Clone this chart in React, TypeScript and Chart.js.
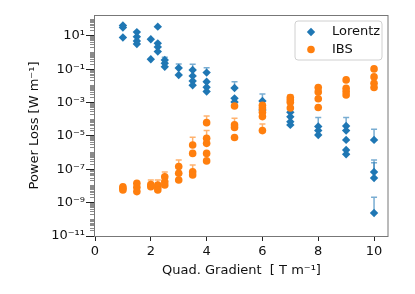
import React, { useEffect, useRef } from "react";
import { Chart, registerables } from "chart.js";

Chart.register(...registerables);

// ---- data ----
const lorentzX = [1, 1, 1, 1.5, 1.5, 1.5, 1.5, 2, 2, 2.25, 2.25, 2.25, 2.25, 2.5, 2.5, 2.5, 3, 3, 3.5, 3.5, 3.5, 3.5, 4, 4, 4, 4, 5, 5, 5, 6, 6, 7, 7, 7, 7, 8, 8, 8, 9, 9, 9, 9, 9, 10, 10, 10, 10];
const lorentzY = [42, 32, 8, 17, 9, 5, 3.3, 6.3, 0.4, 36, 3.6, 2.2, 1.15, 0.36, 0.23, 0.14, 0.12, 0.045, 0.09, 0.04, 0.02, 0.011, 0.063, 0.018, 0.0083, 0.0046, 0.0076, 0.0018, 0.0011, 0.00126, 0.00036, 2.6e-4, 1.4e-4, 7.2e-5, 4.6e-5, 3.7e-5, 2.1e-5, 1.15e-5, 4e-5, 2.1e-5, 5.8e-6, 1.45e-6, 8e-7, 5.8e-6, 6.9e-8, 3e-8, 2.4e-10];
const lorentzErrTop = [null, null, null, null, null, null, null, null, null, null, null, null, null, 0.52, null, null, 0.21, null, 0.2, null, null, null, 0.125, null, null, null, 0.018, null, null, 0.0033, null, 5.8e-4, null, null, null, 1.3e-4, null, null, 1.3e-4, null, null, null, null, 2.5e-5, 3.6e-7, 2.5e-7, 2.1e-9];

const ibsX = [1, 1, 1, 1.5, 1.5, 1.5, 2, 2, 2.25, 2.25, 2.25, 2.5, 2.5, 2.5, 3, 3, 3, 3.5, 3.5, 3.5, 3.5, 4, 4, 4, 4, 4, 5, 5, 5, 5, 6, 6, 6, 6, 6, 7, 7, 7, 7, 8, 8, 8, 8, 9, 9, 9, 9, 10, 10, 10, 10];
const ibsY = [9e-9, 7e-9, 5.8e-9, 1.45e-8, 8.3e-9, 4.6e-9, 1.2e-8, 9e-9, 1.15e-8, 8.3e-9, 5.8e-9, 3.6e-8, 1.8e-8, 1.15e-8, 1.45e-7, 5.8e-8, 2.3e-8, 2.9e-6, 9e-7, 7.2e-8, 4.6e-8, 6.3e-5, 7.2e-6, 3.6e-6, 9e-7, 3.2e-7, 6.3e-4, 4.6e-5, 3.2e-5, 8.1e-6, 7e-4, 4.8e-4, 2.6e-4, 1.45e-4, 2.1e-5, 2e-3, 1.45e-3, 1.05e-3, 4.8e-4, 8.1e-3, 4.4e-3, 1.7e-3, 5.1e-4, 0.023, 7.2e-3, 4.6e-3, 2.9e-3, 0.105, 0.035, 0.0145, 0.008];
const ibsErrTop = [null, null, null, null, null, null, 2.3e-8, null, 2.3e-8, null, null, 6.9e-8, null, null, 3.6e-7, null, null, 8.3e-6, null, 1.8e-7, null, 1.6e-4, 2.1e-5, null, null, null, null, 1.15e-4, null, null, null, null, null, null, 5.2e-5, 2.9e-3, null, null, null, null, null, null, null, null, null, null, null, null, null, null, null];

const seriesNames = ["Lorentz", "IBS"];
const xTicks = [0, 2, 4, 6, 8, 10];
const yLabelExps = [1, -1, -3, -5, -7, -9, -11];
const yDecadeRange = [-11, 2];
const xLimits = [0, 10.5];
const yLimits = [1e-11, 180];
const xTitle = "Quad. Gradient  [ T m\u207B\u00B9]";
const yTitle = "Power Loss [W m\u207B\u00B9]";

const BLUE = "#1f77b4";
const ORANGE = "#ff7f0e";
const FONT = "'DejaVu Sans', sans-serif";
const FS = 13;

const SUP: Record<string, string> = { "-": "\u207B", "0": "\u2070", "1": "\u00B9", "2": "\u00B2", "3": "\u00B3", "4": "\u2074", "5": "\u2075", "6": "\u2076", "7": "\u2077", "8": "\u2078", "9": "\u2079" };
const sup = (n: number) => String(n).split("").map((c) => SUP[c] || c).join("");

const exactExp = (v: number): number | null => {
  const l = Math.log10(v);
  const r = Math.round(l);
  return Math.abs(l - r) < 1e-6 ? r : null;
};
const isLabelled = (v: number) => {
  const e = exactExp(v);
  return e !== null && yLabelExps.includes(e);
};

const errorBarPlugin = {
  id: "errorBars",
  beforeDatasetsDraw(chart: any) {
    const { ctx } = chart;
    const xs = chart.scales.x;
    const ys = chart.scales.y;
    chart.data.datasets.forEach((ds: any) => {
      const tops = ds.errTop;
      if (!tops) return;
      ctx.save();
      ctx.strokeStyle = ds.errColor;
      ctx.lineWidth = 1.5;
      ds.data.forEach((p: any, i: number) => {
        const t = tops[i];
        if (t == null) return;
        const px = xs.getPixelForValue(p.x);
        const py = ys.getPixelForValue(p.y);
        const pt = ys.getPixelForValue(t);
        ctx.beginPath();
        ctx.moveTo(px, py);
        ctx.lineTo(px, pt);
        ctx.moveTo(px - 3, pt);
        ctx.lineTo(px + 3, pt);
        ctx.stroke();
      });
      ctx.restore();
    });
  },
};

const framePlugin = {
  id: "frame",
  afterDatasetsDraw(chart: any) {
    const { ctx, chartArea: a } = chart;
    ctx.save();
    ctx.strokeStyle = "#777";
    ctx.lineWidth = 1;
    ctx.strokeRect(Math.round(a.left) - 0.5, Math.round(a.top) + 0.5, Math.round(a.right - a.left) + 0.5, Math.round(a.bottom - a.top));
    ctx.restore();
  },
};

const legendPlugin = {
  id: "boxLegend",
  afterDraw(chart: any) {
    const { ctx, chartArea: a } = chart;
    const w = 87;
    const h = 39;
    const x0 = a.right - 6 - w;
    const y0 = a.top + 6;
    ctx.save();
    ctx.beginPath();
    const r = 3;
    ctx.moveTo(x0 + r, y0);
    ctx.arcTo(x0 + w, y0, x0 + w, y0 + h, r);
    ctx.arcTo(x0 + w, y0 + h, x0, y0 + h, r);
    ctx.arcTo(x0, y0 + h, x0, y0, r);
    ctx.arcTo(x0, y0, x0 + w, y0, r);
    ctx.closePath();
    ctx.fillStyle = "rgba(255,255,255,0.8)";
    ctx.fill();
    ctx.strokeStyle = "#d0d0d0";
    ctx.lineWidth = 1;
    ctx.stroke();

    const mx = x0 + 16;
    const rows = [y0 + 11, y0 + 28.5];
    // diamond
    ctx.fillStyle = BLUE;
    ctx.beginPath();
    ctx.moveTo(mx, rows[0] - 4.2);
    ctx.lineTo(mx + 4.2, rows[0]);
    ctx.lineTo(mx, rows[0] + 4.2);
    ctx.lineTo(mx - 4.2, rows[0]);
    ctx.closePath();
    ctx.fill();
    // circle
    ctx.fillStyle = ORANGE;
    ctx.beginPath();
    ctx.arc(mx, rows[1], 3.8, 0, Math.PI * 2);
    ctx.fill();

    ctx.fillStyle = "#111";
    ctx.font = `${FS}px ${FONT}`;
    ctx.textBaseline = "middle";
    ctx.textAlign = "left";
    ctx.fillText(seriesNames[0], x0 + 37, rows[0]);
    ctx.fillText(seriesNames[1], x0 + 37, rows[1]);
    ctx.restore();
  },
};

export default function App() {
  const ref = useRef<HTMLCanvasElement | null>(null);

  useEffect(() => {
    document.body.style.margin = "0";
    const canvas = ref.current;
    if (!canvas) return;

    const chart = new Chart(canvas, {
      type: "scatter",
      data: {
        datasets: [
          {
            label: seriesNames[0],
            data: lorentzX.map((x, i) => ({ x, y: lorentzY[i] })),
            pointStyle: "rectRot",
            pointRadius: 4.2,
            backgroundColor: BLUE,
            borderColor: BLUE,
            borderWidth: 0,
            order: 1,
            errTop: lorentzErrTop,
            errColor: "rgba(31,119,180,0.6)",
          } as any,
          {
            label: seriesNames[1],
            data: ibsX.map((x, i) => ({ x, y: ibsY[i] })),
            pointStyle: "circle",
            pointRadius: 3.8,
            backgroundColor: ORANGE,
            borderColor: ORANGE,
            borderWidth: 0,
            order: 0,
            errTop: ibsErrTop,
            errColor: "rgba(255,127,14,0.6)",
          } as any,
        ],
      },
      options: {
        responsive: false,
        animation: false,
        devicePixelRatio: 1,
        layout: { padding: { top: 15, right: 27, left: 0, bottom: 0 } },
        plugins: { legend: { display: false }, tooltip: { enabled: false } },
        scales: {
          x: {
            type: "linear",
            position: "bottom",
            min: xLimits[0],
            max: xLimits[1],
            afterBuildTicks: (scale: any) => {
              scale.ticks = xTicks.map((v) => ({ value: v }));
            },
            afterFit: (scale: any) => {
              scale.height = 58;
            },
            border: { display: false },
            grid: { drawOnChartArea: false, tickLength: 5, tickColor: "#222", tickWidth: 1 },
            ticks: {
              autoSkip: false,
              maxRotation: 0,
              padding: 3,
              color: "#111",
              font: { family: FONT, size: FS },
              callback: (v: any) => String(v),
            },
            title: {
              display: true,
              text: xTitle,
              color: "#111",
              font: { family: FONT, size: FS },
              padding: { top: 0, bottom: 16 },
            },
          },
          y: {
            type: "logarithmic",
            position: "left",
            min: yLimits[0],
            max: yLimits[1],
            afterBuildTicks: (scale: any) => {
              const t: any[] = [];
              for (let e = yDecadeRange[0]; e <= yDecadeRange[1]; e++) {
                for (let m = 1; m <= 9; m++) {
                  const v = Number((m * Math.pow(10, e)).toPrecision(6));
                  if (v >= yLimits[0] && v <= yLimits[1]) t.push({ value: v });
                }
              }
              scale.ticks = t;
            },
            afterFit: (scale: any) => {
              scale.width = 95;
            },
            border: { display: false },
            grid: {
              drawOnChartArea: false,
              tickLength: 9,
              tickWidth: 1,
              tickColor: (c: any) => (c.tick && isLabelled(c.tick.value) ? "#222" : "#8a8a8a"),
              tickBorderDash: (c: any) => (c.tick && isLabelled(c.tick.value) ? [] : [0, 4, 5, 0]),
            },
            ticks: {
              autoSkip: false,
              padding: 1,
              color: "#111",
              font: { family: FONT, size: FS },
              callback: (v: any) => {
                const e = exactExp(Number(v));
                if (e === null || !yLabelExps.includes(e)) return "";
                return "10" + sup(e);
              },
            },
            title: {
              display: true,
              text: yTitle,
              color: "#111",
              font: { family: FONT, size: FS },
              padding: { top: 27, bottom: 0 },
            },
          },
        },
      },
      plugins: [errorBarPlugin, framePlugin, legendPlugin],
    } as any);

    return () => chart.destroy();
  }, []);

  return (
    <div style={{ width: 415, height: 294 }}>
      <canvas ref={ref} width={415} height={294} style={{ display: "block" }} />
    </div>
  );
}
